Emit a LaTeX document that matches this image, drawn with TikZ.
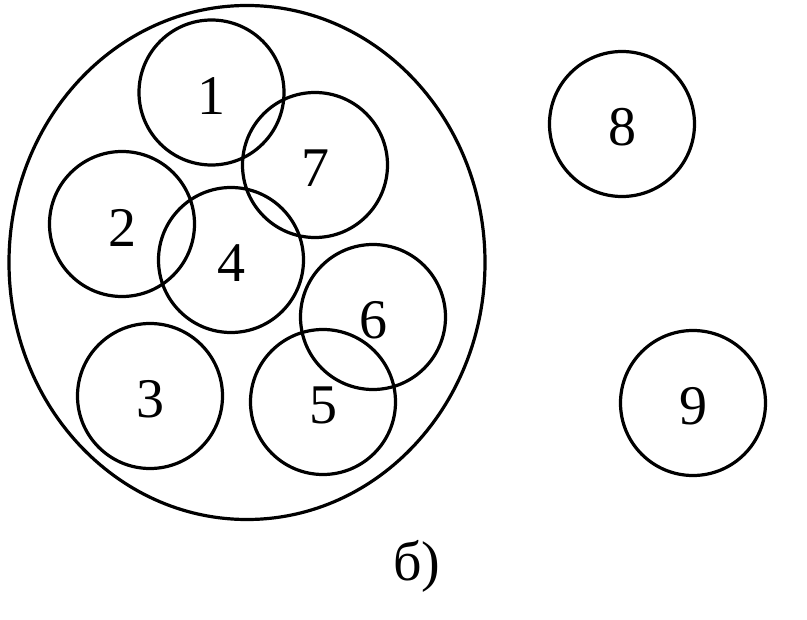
\documentclass[tikz,border=0pt]{standalone}
\usepackage{fontspec}
\setmainfont{Liberation Serif}
\begin{document}
\begin{tikzpicture}[x=1pt,y=-1pt,
  ring/.style={draw,circle,line width=3.2pt,minimum size=145pt,inner sep=0pt},
  lbl/.style={font=\fontsize{56}{60}\selectfont,inner sep=0pt}]
\useasboundingbox (0,0) rectangle (807,620);
\draw[line width=3.2pt] (247,262.5) ellipse [x radius=238, y radius=257];
\foreach \n/\x/\y in {1/211.5/92.5, 7/315/165, 2/122/224, 4/231/260, 6/373/317, 3/150/396, 5/323/402, 8/622/124, 9/693/403}{
  \node[ring] (c\n) at (\x,\y) {};
  \node[lbl] (t\n) at ([yshift=-3.5pt]c\n.center) {\n};
}
\node[lbl] (lb) at (417,566) {б)};
\end{tikzpicture}
\end{document}
